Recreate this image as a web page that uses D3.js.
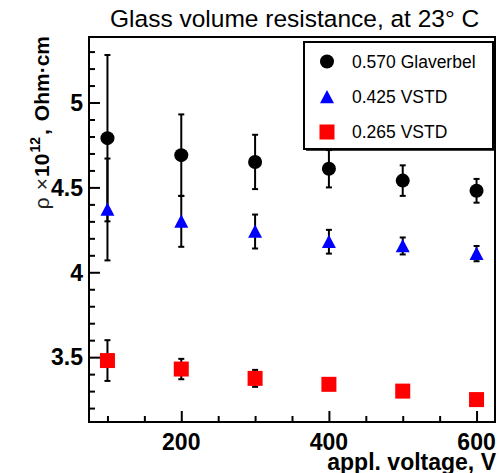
<!DOCTYPE html>
<html>
<head>
<meta charset="utf-8">
<script src="https://cdn.jsdelivr.net/npm/d3@7"></script>
<style>
  html, body { margin: 0; padding: 0; background: #fff; }
  svg { display: block; font-family: "Liberation Sans", Arial, Helvetica, sans-serif; }
</style>
</head>
<body>
<svg id="chart" width="502" height="473"></svg>
<script>
// Applied voltage (V)
const voltage = [100, 200, 300, 400, 500, 600];

// Volume resistivity, units of 1e12 Ohm·cm, with errors
const glaverbel570 = [4.79, 4.69, 4.65, 4.61, 4.54, 4.48];
const glaverbel570Err = [0.49, 0.24, 0.16, 0.11, 0.09, 0.07];
const vstd425 = [4.37, 4.30, 4.24, 4.18, 4.155, 4.11];
const vstd425Err = [0.30, 0.15, 0.10, 0.07, 0.05, 0.045];
const vstd265 = [3.48, 3.43, 3.375, 3.34, 3.30, 3.25];
const vstd265Err = [0.12, 0.06, 0.05, 0.03, 0.03, 0.02];

const seriesNames = ["0.570 Glaverbel", "0.425 VSTD", "0.265 VSTD"];
const xTickLabels = [200, 400, 600];
const yTickLabels = [3.5, 4, 4.5, 5];

const svg = d3.select("#chart");
const frame = { left: 89, right: 495, top: 37, bottom: 422 };

const x = d3.scaleLinear().domain([75, 625]).range([frame.left, frame.right]);
const y = d3.scaleLinear().domain([3.118, 5.386]).range([frame.bottom, frame.top]);

const series = [
  { name: seriesNames[0], values: glaverbel570, errs: glaverbel570Err, color: "#000000", shape: "circle" },
  { name: seriesNames[1], values: vstd425, errs: vstd425Err, color: "#0000ff", shape: "triangle" },
  { name: seriesNames[2], values: vstd265, errs: vstd265Err, color: "#ff0000", shape: "square" }
];

// Title
svg.append("text")
  .attr("x", 110).attr("y", 27)
  .attr("font-size", 24.5)
  .attr("fill", "#000")
  .text("Glass volume resistance, at 23° C");

// Axes: ticks pointing inward, labels on major ticks only
const xMinor = d3.range(100, 601, 50).filter(v => !xTickLabels.includes(v));
const yMinor = d3.range(32, 54).map(v => v / 10).filter(v => !yTickLabels.includes(v));

const xAxisMajor = d3.axisTop(x).tickValues(xTickLabels).tickSize(11).tickFormat("");
const xAxisMinor = d3.axisTop(x).tickValues(xMinor).tickSize(6).tickFormat("");
const yAxisMajor = d3.axisRight(y).tickValues(yTickLabels).tickSize(11).tickFormat("");
const yAxisMinor = d3.axisRight(y).tickValues(yMinor).tickSize(6).tickFormat("");

function styleAxis(g) {
  g.select(".domain").remove();
  g.selectAll(".tick line").attr("stroke", "#000").attr("stroke-width", 2);
}

svg.append("g").attr("transform", `translate(0,${frame.bottom})`).call(xAxisMajor).call(styleAxis);
svg.append("g").attr("transform", `translate(0,${frame.bottom})`).call(xAxisMinor).call(styleAxis);
svg.append("g").attr("transform", `translate(${frame.left},0)`).call(yAxisMajor).call(styleAxis);
svg.append("g").attr("transform", `translate(${frame.left},0)`).call(yAxisMinor).call(styleAxis);

// Tick labels
svg.append("g").selectAll("text").data(xTickLabels).join("text")
  .attr("x", d => x(d)).attr("y", 450)
  .attr("text-anchor", "middle")
  .attr("font-size", 23).attr("font-weight", "bold")
  .text(d => d);

svg.append("g").selectAll("text").data(yTickLabels).join("text")
  .attr("x", 83).attr("y", d => y(d) + 8.3)
  .attr("text-anchor", "end")
  .attr("font-size", 23).attr("font-weight", "bold")
  .text(d => d);

// Frame
svg.append("rect")
  .attr("x", frame.left).attr("y", frame.top)
  .attr("width", frame.right - frame.left).attr("height", frame.bottom - frame.top)
  .attr("fill", "none").attr("stroke", "#000").attr("stroke-width", 2);

// Axis titles
svg.append("text")
  .attr("x", 496).attr("y", 470)
  .attr("text-anchor", "end")
  .attr("font-size", 23).attr("font-weight", "bold")
  .text("appl. voltage, V");

const yTitle = svg.append("text")
  .attr("transform", "translate(49,36) rotate(-90)")
  .attr("text-anchor", "end")
  .attr("font-size", 21);
yTitle.append("tspan").attr("fill", "#222").text("ρ");
yTitle.append("tspan").attr("fill", "#222").attr("dx", 7).text("×");
yTitle.append("tspan").attr("font-weight", "bold").attr("dx", 1).text("10");
yTitle.append("tspan").attr("font-weight", "bold").attr("font-size", 14).attr("dy", -9).attr("dx", 1).text("12");
yTitle.append("tspan").attr("font-weight", "bold").attr("dy", 9).attr("dx", 2).text(",");
yTitle.append("tspan").attr("font-weight", "bold").attr("dx", 8).text("Ohm·cm");

// Marker drawing
function drawMarker(g, shape, color, cx, cy) {
  if (shape === "circle") {
    g.append("circle").attr("cx", cx).attr("cy", cy).attr("r", 7).attr("fill", color);
  } else if (shape === "triangle") {
    const r = 7;
    g.append("path")
      .attr("d", `M${cx},${cy - r}L${cx + r},${cy + r * 0.9}L${cx - r},${cy + r * 0.9}Z`)
      .attr("fill", color);
  } else {
    g.append("rect").attr("x", cx - 7.5).attr("y", cy - 7.5)
      .attr("width", 15).attr("height", 15).attr("fill", color);
  }
}

// Data: error bars then markers
const plot = svg.append("g");
series.forEach(s => {
  const g = plot.append("g");
  voltage.forEach((v, i) => {
    const cx = x(v);
    const y0 = y(s.values[i] - s.errs[i]);
    const y1 = y(s.values[i] + s.errs[i]);
    g.append("line").attr("x1", cx).attr("x2", cx).attr("y1", y0).attr("y2", y1)
      .attr("stroke", "#000").attr("stroke-width", 2);
    [y0, y1].forEach(yy => {
      g.append("line").attr("x1", cx - 3).attr("x2", cx + 3).attr("y1", yy).attr("y2", yy)
        .attr("stroke", "#000").attr("stroke-width", 2);
    });
  });
  voltage.forEach((v, i) => drawMarker(g, s.shape, s.color, x(v), y(s.values[i])));
});

// Legend
const legend = svg.append("g");
legend.append("rect")
  .attr("x", 304).attr("y", 42).attr("width", 189).attr("height", 107)
  .attr("fill", "#fff").attr("stroke", "#000").attr("stroke-width", 2);
legend.append("path")
  .attr("d", "M494,44V150H306")
  .attr("fill", "none").attr("stroke", "#000").attr("stroke-width", 1.5);
const rowY = [61.5, 97, 132];
series.forEach((s, i) => {
  drawMarker(legend, s.shape, s.color, 327, rowY[i]);
  legend.append("text")
    .attr("x", 352).attr("y", rowY[i] + 6.3)
    .attr("font-size", 17.5)
    .text(s.name);
});
</script>
</body>
</html>
